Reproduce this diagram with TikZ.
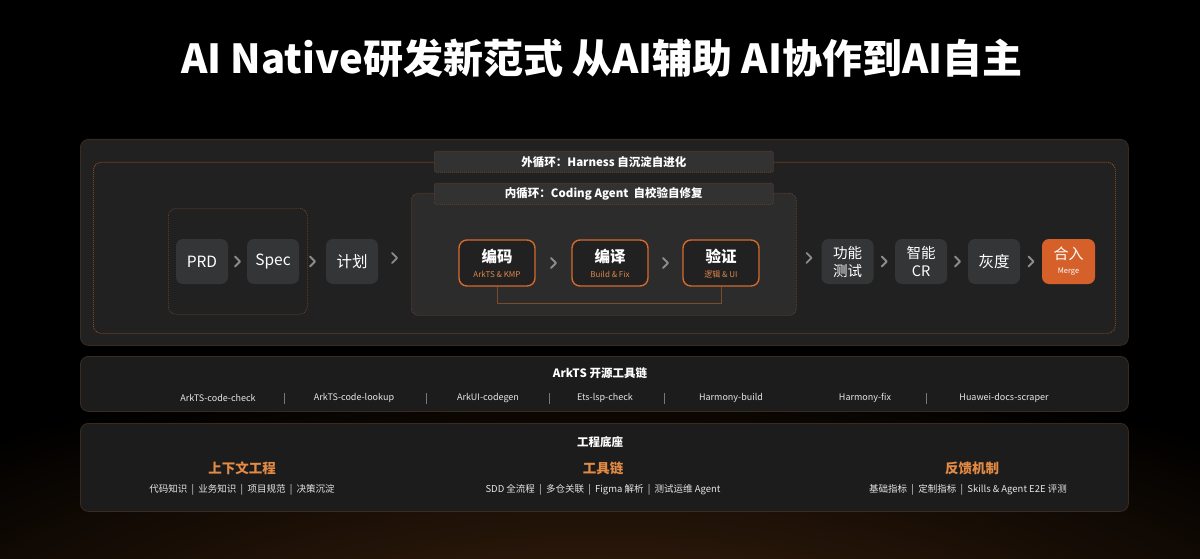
\documentclass[tikz,border=0pt]{standalone}
\usepackage{fontspec}
\setmainfont{Noto Sans CJK SC}
\usetikzlibrary{calc}
\definecolor{panelfill}{HTML}{212121}
\definecolor{panelline}{HTML}{3A2A20}
\definecolor{dotor}{HTML}{A8561F}
\definecolor{dotdim}{HTML}{6E4630}
\definecolor{labfill}{HTML}{323232}
\definecolor{innerfill}{HTML}{2C2C2C}
\definecolor{grayfill}{HTML}{343536}
\definecolor{orline}{HTML}{D4692E}
\definecolor{mergefill}{HTML}{D5602A}
\definecolor{chevc}{HTML}{8C8C8C}
\definecolor{subor}{HTML}{E0874A}
\definecolor{heador}{HTML}{E38A45}
\definecolor{lowfill}{HTML}{1C1C1C}
\definecolor{sepc}{HTML}{777777}
\definecolor{glow}{HTML}{3E230E}
\definecolor{txtgray}{HTML}{E6E6E6}
\definecolor{fbline}{HTML}{7E4A2E}
\begin{document}
\begin{tikzpicture}[x=1pt,y=-1pt,
  panel/.style={anchor=north west,rounded corners=8pt,fill=panelfill,draw=panelline,line width=0.8pt,inner sep=0pt},
  lowpanel/.style={anchor=north west,rounded corners=8pt,fill=lowfill,draw=panelline,line width=0.8pt,inner sep=0pt},
  dotbox/.style={anchor=north west,rounded corners=8pt,draw=dotor,line width=0.7pt,dash pattern=on 1pt off 1pt,inner sep=0pt},
  labbox/.style={anchor=north west,rounded corners=2pt,fill=labfill,draw=dotdim,line width=0.7pt,dash pattern=on 1pt off 1pt,inner sep=0pt,minimum width=339pt,minimum height=21pt,text=white,font=\fontsize{11.5}{13}\selectfont\bfseries},
  graynode/.style={rounded corners=7pt,fill=grayfill,minimum width=52pt,minimum height=45pt,inner sep=0pt,text=white,align=center,font=\fontsize{15.5}{18}\selectfont},
  ornode/.style={rounded corners=8pt,fill=panelfill,draw=orline,line width=1.4pt,minimum width=76pt,minimum height=46pt,inner sep=0pt},
  ortitle/.style={text=white,font=\fontsize{15.5}{17}\selectfont\bfseries,inner sep=0pt},
  orsub/.style={text=subor,font=\fontsize{8}{9}\selectfont,inner sep=0pt},
  chev/.style={draw=chevc,line width=1.8pt,line cap=round,line join=round},
  tool/.style={text=txtgray,font=\fontsize{9}{10}\selectfont,inner sep=0pt},
  sepbar/.style={draw=sepc,line width=0.6pt},
  ptitle/.style={text=white,font=\fontsize{11.5}{13}\selectfont\bfseries,inner sep=0pt},
  heading/.style={text=heador,font=\fontsize{13.5}{15}\selectfont\bfseries,inner sep=0pt},
  subline/.style={text=txtgray,font=\fontsize{9.5}{11}\selectfont,inner sep=0pt}
]
\useasboundingbox (0,0) rectangle (1200,559);
\fill[black] (0,0) rectangle (1200,559);
\begin{scope}
\clip (0,0) rectangle (1200,559);
\shade[inner color=glow,outer color=black] (600,660) ellipse (900 and 300);
\end{scope}

% title
\node[text=white,font=\fontsize{40}{44}\selectfont\bfseries,inner sep=0pt] (title) at (602,58) {AI Native研发新范式 从AI辅助 AI协作到AI自主};

% main panel
\node[panel,minimum width=1048pt,minimum height=206pt] (main) at (80,139) {};
\node[dotbox,minimum width=1022pt,minimum height=171pt] (outer) at (93,162) {};
\node[anchor=north west,rounded corners=7pt,fill=innerfill,draw=dotdim,line width=0.7pt,dash pattern=on 1pt off 1pt,inner sep=0pt,minimum width=385pt,minimum height=122pt] (inner) at (411,193) {};
\node[anchor=north west,rounded corners=8pt,draw=dotdim,line width=0.7pt,dash pattern=on 1pt off 1pt,inner sep=0pt,minimum width=139pt,minimum height=106pt] (group) at (168,208) {};
\node[labbox] (outerlab) at (434,151) {外循环：Harness 自沉淀自进化};
\node[labbox] (innerlab) at (434,183) {内循环：Coding Agent\ \ 自校验自修复};

% gray nodes
\node[graynode] (prd) at (202,261.5) {PRD};
\node[graynode] (spec) at (273,261.5) {Spec};
\node[graynode] (plan) at (352,261.5) {计划};
\node[graynode,font=\fontsize{14.5}{18}\selectfont] (func) at (847.5,261.5) {功能\\测试};
\node[graynode,font=\fontsize{14.5}{18}\selectfont] (cr) at (921,261.5) {智能\\CR};
\node[graynode] (gray) at (994,261.5) {灰度};
\node[graynode,fill=mergefill,minimum width=53pt] (merge) at (1068.5,261.5) {};
\node[text=white,font=\fontsize{15}{16}\selectfont,inner sep=0pt] (mergeT) at ($(merge.center)+(0,-7.5)$) {合入};
\node[text=white,font=\fontsize{7.5}{9}\selectfont,inner sep=0pt] (mergeS) at ($(merge.center)+(0,10.5)$) {Merge};

% orange nodes
\node[ornode] (enc) at (497,263) {};
\node[ortitle] (encT) at ($(enc.center)+(0,-6.5)$) {编码};
\node[orsub] (encS) at ($(enc.center)+(0,11)$) {ArkTS \& KMP};
\node[ornode] (comp) at (610,263) {};
\node[ortitle] (compT) at ($(comp.center)+(0,-6.5)$) {编译};
\node[orsub] (compS) at ($(comp.center)+(0,11)$) {Build \& Fix};
\node[ornode] (ver) at (721,263) {};
\node[ortitle] (verT) at ($(ver.center)+(0,-6.5)$) {验证};
\node[orsub] (verS) at ($(ver.center)+(0,11)$) {逻辑 \& UI};

% feedback line
\draw[draw=fbline,line width=0.9pt] (enc.south) -- ++(0,17) -| (ver.south);

% chevrons
\foreach \a/\b in {prd/spec,spec/plan,plan/inner,enc/comp,comp/ver,inner/func,func/cr,cr/gray,gray/merge}{
  \draw[chev] ($(\a.east)!0.5!(\b.west)+(-2.5,-5)$) -- ++(5,5) -- ++(-5,5);
}

% toolchain panel
\node[lowpanel,minimum width=1048pt,minimum height=55pt] (tools) at (80,356) {};
\node[ptitle] (toolsT) at (600,373) {ArkTS 开源工具链};
\node[tool] (t1) at (218,398) {ArkTS-code-check};
\node[tool] (t2) at (354,398) {ArkTS-code-lookup};
\node[tool] (t3) at (488,398) {ArkUI-codegen};
\node[tool] (t4) at (605,398) {Ets-lsp-check};
\node[tool] (t5) at (731,398) {Harmony-build};
\node[tool] (t6) at (865,398) {Harmony-fix};
\node[tool] (t7) at (1004,398) {Huawei-docs-scraper};
\foreach \x in {284,426,549,664,926}{
  \draw[sepbar] (\x,392.5) -- (\x,403.5);
}

% foundation panel
\node[lowpanel,minimum width=1048pt,minimum height=88pt] (base) at (80,423) {};
\node[ptitle] (baseT) at (600,442) {工程底座};
\node[heading] (h1) at (242,468) {上下文工程};
\node[heading] (h2) at (603,468) {工具链};
\node[heading] (h3) at (972,468) {反馈机制};
\node[subline] (s1) at (242,490) {代码知识\ \ |\ \ 业务知识\ \ |\ \ 项目规范\ \ |\ \ 决策沉淀};
\node[subline] (s2) at (603,490) {SDD 全流程\ \ |\ \ 多仓关联\ \ |\ \ Figma 解析\ \ |\ \ 测试运维 Agent};
\node[subline] (s3) at (968,490) {基础指标\ \ |\ \ 定制指标\ \ |\ \ Skills \& Agent E2E 评测};
\end{tikzpicture}
\end{document}
